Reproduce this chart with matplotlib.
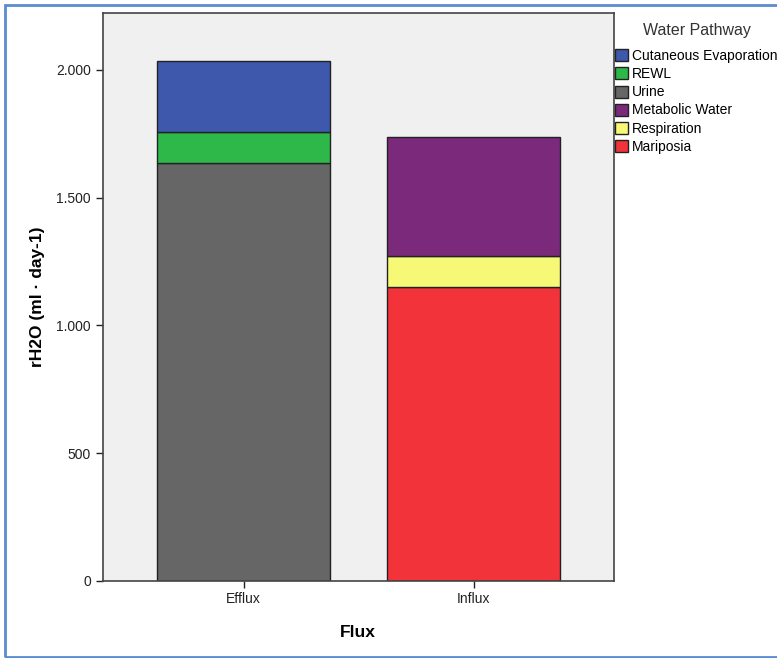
#!/usr/bin/env python3

import matplotlib
matplotlib.use('Agg')
import matplotlib.pyplot as plt
from matplotlib.patches import Patch, Rectangle
from matplotlib.ticker import FuncFormatter
plt.rc('font', family=['Liberation Sans', 'DejaVu Sans'], size=10)

categories = ['Efflux', 'Influx']

# pathway -> values per category (Efflux, Influx), in stacking order
pathways = ['Urine', 'REWL', 'Cutaneous Evaporation',
            'Mariposia', 'Respiration', 'Metabolic Water']
urine = [1635, 0]
rewl = [121, 0]
cutaneous = [280, 0]
mariposia = [0, 1149]
respiration = [0, 123]
metabolic = [0, 467]

legend_order = ['Cutaneous Evaporation', 'REWL', 'Urine',
                'Metabolic Water', 'Respiration', 'Mariposia']

COLORS = {
  'Cutaneous Evaporation': '#3e58ac',
  'REWL': '#2eb84a',
  'Urine': '#666666',
  'Metabolic Water': '#7b2a7b',
  'Respiration': '#f8f877',
  'Mariposia': '#f2333a',
}


def thousands(v, pos):
  return '{:,.0f}'.format(v).replace(',', '.')


def main():
  values = dict(zip(pathways, [urine, rewl, cutaneous,
                               mariposia, respiration, metabolic]))
  WIDTH = 0.752

  fig = plt.figure(figsize=(7.77, 6.58), dpi=100)
  ax = fig.add_axes([0.1322, 0.1175, 0.6578, 0.8623])
  ax.set_facecolor('#f0f0f0')

  bottoms = [0] * len(categories)
  for name in pathways:
    vals = values[name]
    for i, v in enumerate(vals):
      if v > 0:
        ax.bar(i, v, WIDTH, bottom=bottoms[i], color=COLORS[name],
               edgecolor='#222222', linewidth=1.0, zorder=2)
      bottoms[i] += v

  ax.set_xlim(-0.613, 1.61)
  ax.set_ylim(0, 2222)
  ax.set_yticks([0, 500, 1000, 1500, 2000])
  ax.yaxis.set_major_formatter(FuncFormatter(thousands))
  ax.set_xticks(range(len(categories)))
  ax.set_xticklabels(categories)
  ax.tick_params(direction='out', length=5, width=1, colors='#222222',
                 labelsize=10)
  for s in ax.spines.values():
    s.set_color('#444444')
    s.set_linewidth(1.2)

  ax.set_ylabel('rH2O (ml · day-1)', fontsize=12.5, fontweight='bold',
                labelpad=8)
  ax.set_xlabel('Flux', fontsize=12.5, fontweight='bold', labelpad=13)

  fig.text(697 / 777, 1 - 31 / 658, 'Water Pathway', fontsize=11.5,
           ha='center', va='center', color='#333333')
  handles = [Patch(facecolor=COLORS[n], edgecolor='#222222', linewidth=1)
             for n in legend_order]
  fig.legend(handles, legend_order,
             loc='upper left', bbox_to_anchor=(615 / 777, 1 - 49 / 658),
             frameon=False, fontsize=10,
             handlelength=0.95, handleheight=0.95, handletextpad=0.25,
             labelspacing=0.3, borderaxespad=0, borderpad=0)

  fig.patches.append(Rectangle((5 / 777, 1 / 658), 1.0, 652 / 658,
                               transform=fig.transFigure, fill=False,
                               edgecolor='#5b8bd0', linewidth=2))

  fig.patch.set_facecolor('white')
  plt.savefig('out.png', dpi=100)


if __name__ == '__main__':
  main()
